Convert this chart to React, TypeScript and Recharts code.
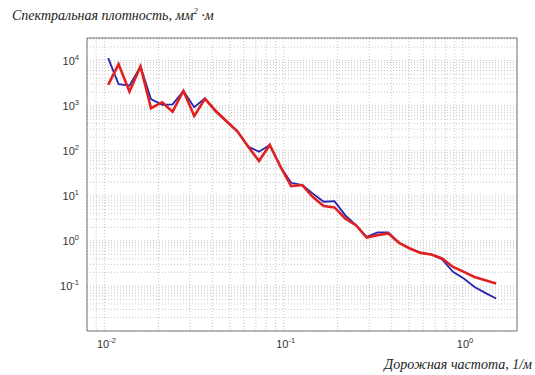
import { LineChart, Line, XAxis, YAxis, CartesianGrid, ReferenceArea } from "recharts";

// road frequency, 1/m
const freq = [
  0.0105, 0.012, 0.0138, 0.0159, 0.0182, 0.021, 0.024, 0.0276, 0.0317, 0.0364,
  0.0418, 0.048, 0.0552, 0.0634, 0.0728, 0.0836, 0.096, 0.11, 0.127, 0.145,
  0.167, 0.192, 0.22, 0.253, 0.29, 0.334, 0.383, 0.44, 0.505, 0.58,
  0.666, 0.765, 0.879, 1.01, 1.16, 1.33, 1.53,
];

// spectral density, mm^2*m
const blue = [
  11300, 2990, 2780, 7360, 1390, 1040, 1070, 2120, 920, 1460,
  736, 441, 264, 123, 95, 134, 44, 19.4, 17.3, 11.3,
  7.36, 7.62, 3.72, 2.23, 1.23, 1.54, 1.54, 0.903, 0.678, 0.541,
  0.499, 0.386, 0.205, 0.146, 0.095, 0.07, 0.0525,
];

const red = [
  2880, 8320, 2050, 7360, 875, 1190, 736, 2120, 590, 1410,
  760, 450, 270, 123, 59, 134, 44, 16.4, 17.3, 9.5,
  5.9, 5.52, 3.15, 2.23, 1.18, 1.34, 1.46, 0.903, 0.678, 0.541,
  0.499, 0.407, 0.264, 0.205, 0.158, 0.134, 0.113,
];

const xDecades = [0.001, 0.01, 0.1, 1];
const yDecades = [0.01, 0.1, 1, 10, 100, 1000, 10000];
const minorSteps = [1, 2, 3, 4, 5, 6, 7, 8, 9];
const xDomain: [number, number] = [0.008, 2];
const yDomain: [number, number] = [0.01, 31623];
const xLabelled = [-2, -1, 0];
const yLabelled = [-1, 0, 1, 2, 3, 4];

const data = freq.map((f, i) => ({ f, blue: blue[i], red: red[i] }));

const makeTicks = (decades: number[], dom: [number, number]) =>
  decades
    .flatMap((d) => minorSteps.map((m) => +(d * m).toPrecision(3)))
    .filter((v) => v >= dom[0] * 0.999 && v <= dom[1] * 1.001);

const xTicks = makeTicks(xDecades, xDomain);
const yTicks = makeTicks(yDecades, yDomain);

const exponentOf = (v: number) => {
  const e = Math.round(Math.log10(v));
  return Math.abs(v / Math.pow(10, e) - 1) < 1e-6 ? e : null;
};

const tickFont = { fontFamily: "'Liberation Sans', Arial, sans-serif", fontSize: 11, fill: "#333" };

const XTick = (props: any) => {
  const { x, y, payload } = props;
  const e = exponentOf(payload.value);
  if (e === null || !xLabelled.includes(e)) return null;
  return (
    <text x={x + 2} y={y + 9} textAnchor="middle" {...tickFont}>
      10
      <tspan dy={-5} fontSize={7.5}>
        {e}
      </tspan>
    </text>
  );
};

const YTick = (props: any) => {
  const { x, y, payload } = props;
  const e = exponentOf(payload.value);
  if (e === null || !yLabelled.includes(e)) return null;
  return (
    <text x={x} y={y + 4} textAnchor="end" {...tickFont}>
      10
      <tspan dy={-5} fontSize={7.5}>
        {e}
      </tspan>
    </text>
  );
};

const serif = "'Liberation Serif', 'Times New Roman', serif";

export default function App() {
  return (
    <div style={{ position: "absolute", left: 0, top: 0, width: 535, height: 375, background: "#fff" }}>
      <div
        style={{
          position: "absolute",
          left: 12,
          top: 8,
          fontFamily: serif,
          fontStyle: "italic",
          fontSize: 14,
          color: "#222",
          whiteSpace: "nowrap",
        }}
      >
        Спектральная плотность, мм
        <sup style={{ fontSize: 9, verticalAlign: "6px", lineHeight: 0 }}>2</sup> ·м
      </div>
      <div
        style={{
          position: "absolute",
          right: 3,
          top: 357,
          fontFamily: serif,
          fontStyle: "italic",
          fontSize: 14,
          color: "#222",
          whiteSpace: "nowrap",
        }}
      >
        Дорожная частота, 1/м
      </div>
      <LineChart width={535} height={375} data={data} margin={{ top: 38, right: 18, left: 37, bottom: 14 }}>
        <CartesianGrid stroke="#b8b8b8" strokeDasharray="1 2" strokeWidth={0.8} />
        <XAxis
          dataKey="f"
          type="number"
          scale="log"
          domain={xDomain}
          allowDataOverflow
          ticks={xTicks}
          interval={0}
          tick={<XTick />}
          tickLine={false}
          axisLine={false}
          height={30}
        />
        <YAxis
          type="number"
          scale="log"
          domain={yDomain}
          allowDataOverflow
          ticks={yTicks}
          interval={0}
          tick={<YTick />}
          tickLine={false}
          axisLine={false}
          width={50}
        />
        <ReferenceArea
          x1={xDomain[0]}
          x2={xDomain[1]}
          y1={yDomain[0]}
          y2={yDomain[1]}
          fill="none"
          stroke="#777"
          strokeWidth={1}
          ifOverflow="visible"
        />
        <Line
          type="linear"
          dataKey="blue"
          stroke="#2424b4"
          strokeWidth={1.8}
          dot={false}
          isAnimationActive={false}
        />
        <Line
          type="linear"
          dataKey="red"
          stroke="#e0211f"
          strokeWidth={2.6}
          dot={false}
          isAnimationActive={false}
        />
      </LineChart>
    </div>
  );
}
